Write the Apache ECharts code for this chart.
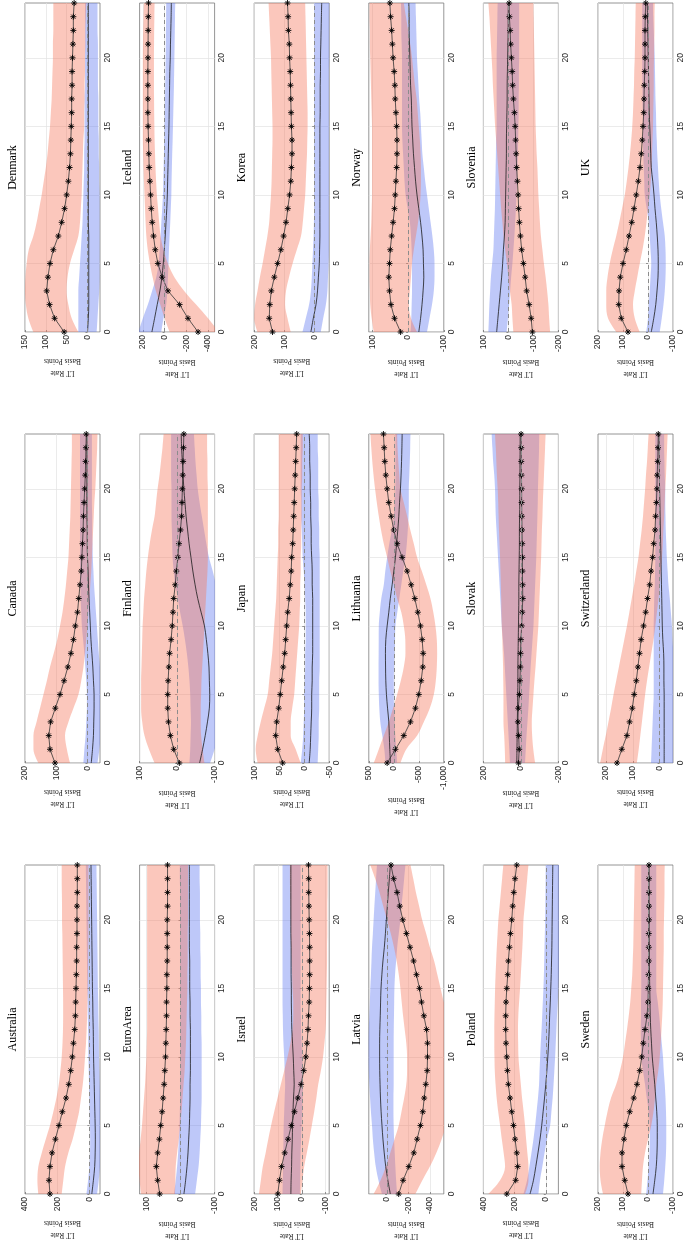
<!DOCTYPE html>
<html><head><meta charset="utf-8">
<script src="https://cdn.jsdelivr.net/npm/echarts@6/dist/echarts.min.js"></script>
<style>html,body{margin:0;padding:0;background:#fff}#c{width:687px;height:1247px}</style>
</head><body><div id="c"></div>
<script>
const horizons = [0,1,2,3,4,5,6,7,8,9,10,11,12,13,14,15,16,17,18,19,20,21,22,23,24];
const countryColumns = [
  ['Australia','EuroArea','Israel','Latvia','Poland','Sweden'],
  ['Canada','Finland','Japan','Lithuania','Slovak','Switzerland'],
  ['Denmark','Iceland','Korea','Norway','Slovenia','UK']
];
const axisName = 'LT Rate\nBasis Points';

// rm = red median (starred), ru/rl = red band; bm = blue median, bu/bl = blue band
const au_rm = [245,251,245,232,211,189,168,145,128,116,106,99,91,87,85,83,81,79,79,77,77,77,75,75,75];
const au_ru = [317,323,317,296,271,245,224,205,190,180,172,167,164,163,163,164,165,166,167,168,170,170,171,172,172];
const au_rl = [172,162,151,131,104,83,64,52,41,33,27,21,17,14,12,10,9,8,7,6,6,6,6,6,6];
const au_bm = [-15,-25,-33,-36,-37,-36,-34,-32,-30,-28,-26,-25,-24,-22,-21,-19,-18,-17,-16,-15,-14,-13,-12,-11,-10];
const au_bu = [18,8,0,-4,-5,-4,-2,0,2,4,6,7,8,10,11,13,14,15,16,17,18,19,20,21,22];
const au_bl = [-48,-58,-66,-70,-71,-70,-68,-66,-64,-62,-60,-59,-58,-56,-55,-53,-52,-51,-50,-49,-48,-47,-46,-45,-44];

const ea_rm = [61,67,71,67,62,58,54,51,48,46,44,43,42,41,41,40,40,39,39,39,39,38,38,38,38];
const ea_ru = [116,120,123,121,117,113,110,107,104,102,100,99,98,98,98,98,98,98,98,98,98,98,98,98,98];
const ea_rl = [16,15,14,10,5,1,-3,-6,-9,-12,-14,-16,-17,-18,-19,-20,-20,-21,-21,-21,-22,-22,-22,-22,-22];
const ea_bm = [-10,-15,-19,-22,-24,-26,-27,-28,-28,-29,-29,-29,-29,-28,-28,-27,-27,-27,-26,-26,-26,-26,-26,-26,-26];
const ea_bu = [19,14,10,7,5,3,2,1,1,0,0,0,0,0,0,1,1,1,1,1,1,1,1,2,2];
const ea_bl = [-43,-48,-53,-56,-58,-60,-61,-62,-62,-62,-62,-62,-61,-61,-60,-60,-59,-59,-58,-58,-57,-57,-57,-56,-56];

const is_rm = [101,94,85,72,58,44,31,17,3,-8,-17,-22,-26,-28,-31,-32,-33,-33,-33,-32,-31,-30,-29,-29,-28];
const is_ru = [180,172,164,152,141,129,116,102,88,74,60,48,39,36,36,39,41,43,45,46,47,48,49,50,50];
const is_rl = [4,-3,-10,-21,-32,-42,-52,-61,-69,-80,-89,-95,-100,-102,-103,-104,-105,-106,-106,-107,-107,-107,-108,-108,-108];
const is_bm = [46,45,43,42,40,39,37,35,32,34,36,39,42,43,44,44,45,45,45,46,46,46,46,46,46];
const is_bu = [81,80,79,78,77,76,74,72,70,72,74,77,79,80,81,81,81,81,81,81,81,81,81,81,81];
const is_bl = [8,7,6,5,3,1,-1,-3,-5,-4,-2,1,3,4,5,5,5,5,5,5,5,5,5,5,5];

const lv_rm = [-109,-150,-203,-250,-281,-312,-334,-347,-362,-375,-378,-378,-369,-344,-322,-303,-275,-248,-215,-181,-147,-119,-94,-62,-37];
const lv_ru = [125,60,10,-30,-70,-109,-135,-160,-180,-187,-187,-180,-165,-150,-137,-125,-110,-90,-65,-35,0,35,70,110,156];
const lv_rl = [-265,-330,-400,-460,-510,-550,-570,-580,-590,-595,-595,-590,-580,-560,-530,-500,-470,-440,-400,-365,-328,-300,-270,-245,-219];
const lv_bm = [-31,-8,12,26,38,47,55,61,65,68,69,69,67,63,60,56,48,38,25,15,6,-3,-12,-22,-31];
const lv_bu = [47,80,105,120,132,140,150,158,165,170,172,172,170,165,160,156,150,145,140,132,125,118,110,102,94];
const lv_bl = [-94,-85,-78,-72,-66,-62,-60,-60,-62,-62,-62,-62,-63,-65,-67,-69,-75,-85,-95,-110,-125,-135,-148,-160,-172];

const pl_rm = [250,193,180,186,197,207,218,229,240,246,250,255,257,257,255,250,244,240,233,227,218,212,205,197,186];
const pl_ru = [368,293,261,270,282,293,305,315,322,327,329,330,330,329,327,325,322,318,314,309,304,296,288,280,272];
const pl_rl = [133,111,111,118,126,133,142,152,160,168,175,177,178,176,171,165,160,155,150,146,143,135,127,119,111];
const pl_bm = [101,79,64,50,37,26,17,8,0,-7,-13,-18,-22,-25,-29,-32,-35,-37,-39,-40,-41,-42,-43,-44,-45];
const pl_bu = [143,120,105,92,79,68,59,50,43,40,36,32,27,23,19,15,12,10,8,6,4,3,2,1,0];
const pl_bl = [47,37,22,8,-8,-28,-36,-44,-50,-55,-60,-64,-68,-72,-77,-81,-84,-86,-88,-90,-92,-94,-95,-96,-97];

const sw_rm = [80,93,104,104,96,87,73,57,44,33,25,19,12,4,0,-1,-2,-3,-3,-3,-4,-4,-4,-4,-4];
const sw_ru = [180,190,193,190,183,173,162,148,127,112,100,92,84,77,71,67,63,61,59,58,57,56,55,54,53];
const sw_rl = [27,24,20,12,0,-13,-22,-28,-33,-41,-47,-51,-54,-57,-59,-60,-61,-62,-63,-63,-64,-65,-66,-66,-67];
const sw_bm = [-20,-27,-33,-36,-37,-37,-35,-31,-27,-22,-17,-14,-11,-9,-8,-7,-6,-5,-5,-4,-4,-3,-3,-3,-3];
const sw_bu = [7,2,-3,-6,-7,-7,-3,5,12,20,27,28,29,28,28,27,27,27,27,27,27,27,27,27,27];
const sw_bl = [-60,-65,-69,-72,-73,-73,-72,-70,-67,-63,-60,-55,-50,-45,-39,-33,-33,-33,-33,-33,-33,-33,-33,-33,-33];

const ca_rm = [104,120,124,118,103,88,75,63,53,45,39,32,28,24,20,18,16,14,13,11,9,7,6,5,4];
const ca_ru = [157,173,173,163,152,141,130,120,108,97,88,80,74,69,65,61,59,57,55,54,53,52,51,50,50];
const ca_rl = [56,66,72,61,45,29,20,13,8,4,0,-3,-6,-9,-12,-14,-16,-18,-20,-22,-25,-27,-29,-31,-32];
const ca_bm = [-12,-16,-19,-20,-21,-21,-19,-17,-14,-11,-9,-7,-5,-3,-2,0,1,1,2,2,2,2,2,2,2];
const ca_bu = [13,10,6,4,2,2,4,7,10,14,18,20,22,23,24,24,24,24,24,24,24,24,24,24,24];
const ca_bl = [-32,-38,-42,-44,-45,-45,-43,-40,-36,-33,-30,-27,-24,-21,-19,-17,-16,-15,-15,-14,-14,-14,-14,-14,-14];

const fi_rm = [-6,9,18,23,25,25,24,22,20,16,13,11,9,5,2,-2,-5,-9,-12,-13,-14,-15,-16,-17,-18];
const fi_ru = [60,75,87,93,96,96,96,95,94,93,92,90,88,85,82,78,73,67,60,56,52,47,43,39,36];
const fi_rl = [-73,-68,-64,-63,-63,-64,-65,-67,-69,-71,-73,-75,-77,-79,-81,-82,-82,-82,-82,-82,-82,-81,-81,-80,-80];
const fi_bm = [-60,-68,-75,-81,-86,-87,-86,-85,-82,-78,-73,-64,-55,-48,-42,-37,-32,-28,-24,-21,-18,-16,-14,-12,-11];
const fi_bu = [-33,-35,-36,-37,-36,-35,-33,-30,-26,-21,-15,-8,-2,5,9,12,13,14,15,15,15,16,16,16,16];
const fi_bl = [-88,-100,-110,-115,-118,-120,-120,-118,-116,-114,-112,-110,-107,-103,-95,-85,-78,-72,-66,-60,-55,-52,-49,-47,-45];

const jp_rm = [43,53,57,55,51,48,45,42,39,37,35,33,30,28,26,25,23,22,21,20,19,18,17,16,15];
const jp_ru = [93,97,93,87,80,73,70,67,64,62,60,58,56,55,54,53,52,52,51,51,51,51,51,51,51];
const jp_rl = [7,17,27,27,24,20,18,16,14,12,10,9,8,8,7,7,6,6,5,5,5,4,4,3,3];
const jp_bm = [-10,-12,-13,-14,-15,-15,-16,-16,-17,-17,-17,-17,-17,-16,-16,-15,-14,-14,-13,-13,-12,-12,-11,-11,-10];
const jp_bu = [7,4,2,1,0,0,-1,-2,-2,-3,-3,-3,-2,-1,1,3,4,5,6,6,7,7,7,7,7];
const jp_bl = [-27,-28,-29,-29,-30,-30,-30,-31,-31,-31,-31,-31,-31,-31,-31,-31,-30,-30,-29,-29,-28,-28,-28,-27,-27];

const lt_rm = [133,-33,-200,-333,-433,-500,-547,-580,-587,-567,-533,-480,-420,-347,-267,-167,-67,0,53,100,133,160,180,193,207];
const lt_ru = [400,300,200,100,15,-67,-140,-200,-233,-230,-200,-150,-67,0,70,133,200,255,300,340,375,405,430,450,467];
const lt_rl = [-133,-250,-467,-600,-720,-800,-840,-860,-867,-860,-833,-790,-733,-650,-560,-467,-400,-330,-267,-200,-133,-110,-90,-75,-67];
const lt_bm = [67,80,90,100,125,147,160,165,167,160,133,100,70,33,0,-33,-55,-80,-100,-115,-133,-145,-155,-162,-167];
const lt_bu = [167,190,230,270,290,300,305,305,303,302,300,280,250,200,170,133,90,40,0,-20,-33,-33,-33,-33,-33];
const lt_bl = [-67,-50,-30,-15,-5,0,0,-5,-15,-25,-33,-70,-110,-150,-190,-233,-260,-280,-295,-300,-300,-310,-320,-328,-333];

const sk_rm = [13,9,12,16,14,8,5,3,2,0,-4,-7,-10,-9,-8,-8,-7,-6,-5,-4,-4,-3,-2,-2,-1];
const sk_ru = [84,86,89,93,93,93,94,95,97,99,102,104,105,107,109,111,114,117,119,121,124,128,131,134,138];
const sk_rl = [-76,-66,-60,-58,-62,-67,-72,-78,-83,-88,-93,-96,-99,-102,-105,-108,-110,-112,-115,-117,-120,-123,-126,-129,-132];
const sk_bm = [22,21,20,19,18,17,16,16,15,14,13,12,11,11,10,9,8,8,7,6,6,5,5,4,4];
const sk_bu = [58,62,66,70,74,78,82,86,90,96,102,106,110,114,118,122,126,130,134,136,138,142,148,152,156];
const sk_bl = [-22,-26,-30,-35,-40,-44,-48,-52,-57,-62,-67,-70,-73,-76,-79,-82,-84,-86,-88,-90,-91,-93,-95,-97,-98];

const ch_rm = [159,141,122,112,102,95,87,81,75,69,60,52,45,37,32,26,22,17,15,12,10,9,7,6,5];
const ch_ru = [222,212,201,191,181,172,162,152,142,132,122,113,104,95,87,79,73,67,62,58,54,51,47,44,41];
const ch_rl = [85,78,72,66,60,54,47,39,31,23,16,10,4,-1,-5,-9,-12,-14,-17,-19,-21,-24,-26,-28,-30];
const ch_bm = [-17,-17,-17,-17,-17,-17,-16,-16,-15,-12,-10,-9,-8,-7,-6,-5,-4,-3,-2,-1,0,1,1,2,2];
const ch_bu = [32,30,28,26,24,22,22,22,22,22,22,21,20,18,17,16,16,16,16,16,16,16,16,16,16];
const ch_bl = [-55,-58,-60,-62,-63,-63,-62,-58,-52,-48,-46,-42,-38,-33,-30,-27,-25,-23,-22,-21,-21,-19,-18,-17,-17];

const dk_rm = [56,79,91,98,95,90,82,70,62,55,50,46,43,41,40,39,38,38,37,37,36,35,34,34,32];
const dk_ru = [130,142,148,150,149,146,141,130,122,116,110,105,100,96,93,90,88,86,85,84,83,83,82,82,82];
const dk_rl = [22,38,46,50,48,42,32,22,18,16,14,13,12,11,10,8,8,7,7,6,6,5,5,4,3];
const dk_bm = [0,-2,-3,-3,-3,-3,-3,-3,-2,-2,-2,-2,-2,-2,-2,-2,-2,-2,-2,-2,-2,-2,-2,-2,-2];
const dk_bu = [22,22,22,22,20,18,16,14,12,11,10,9,8,8,7,7,7,7,6,6,6,6,6,6,6];
const dk_bl = [-22,-24,-26,-28,-29,-29,-29,-29,-29,-29,-29,-28,-28,-27,-27,-26,-26,-26,-25,-25,-25,-25,-24,-24,-24];

const ic_rm = [-308,-215,-138,-31,22,62,86,102,114,123,129,135,142,145,148,152,154,154,154,154,153,152,151,150,148];
const ic_ru = [-46,0,40,80,110,135,155,168,175,180,185,190,194,197,200,200,200,200,200,200,200,199,197,194,191];
const ic_rl = [-500,-400,-290,-180,-90,-30,10,37,50,60,71,78,84,88,92,94,96,97,98,98,98,97,96,94,92];
const ic_bm = [117,92,68,43,25,12,3,-6,-13,-20,-25,-28,-31,-34,-37,-40,-42,-44,-46,-48,-52,-54,-57,-60,-62];
const ic_bu = [240,200,154,115,77,55,45,37,30,22,15,12,9,6,3,0,-2,-4,-6,-8,-10,-11,-12,-14,-15];
const ic_bl = [31,10,-15,-25,-31,-36,-40,-46,-52,-57,-62,-64,-67,-70,-74,-77,-80,-83,-86,-88,-90,-92,-94,-96,-98];

const kr_rm = [139,150,148,143,133,122,111,102,94,88,82,78,76,74,74,76,77,78,79,80,82,83,86,87,89];
const kr_ru = [189,200,197,189,181,172,164,156,150,147,144,142,141,140,139,139,140,141,142,143,144,146,148,150,152];
const kr_rl = [78,89,97,94,84,72,58,44,38,34,30,28,26,24,23,22,22,23,24,25,26,27,28,29,30];
const kr_bm = [11,3,-6,-11,-14,-17,-18,-19,-19,-19,-19,-19,-19,-19,-19,-19,-20,-20,-20,-21,-21,-22,-23,-24,-25];
const kr_bu = [39,28,17,11,8,6,4,2,1,0,0,0,0,0,0,0,0,0,0,0,0,0,0,0,0];
const kr_bl = [-22,-30,-39,-44,-46,-48,-49,-49,-49,-49,-49,-49,-49,-49,-49,-49,-49,-49,-49,-49,-50,-50,-50,-50,-50];

const no_rm = [21,38,48,52,54,52,50,46,42,38,36,34,32,31,31,32,34,36,37,39,42,44,46,49,51];
const no_ru = [96,102,106,107,108,108,107,105,103,102,101,101,101,101,101,101,102,103,104,105,106,107,107,108,108];
const no_rl = [-25,-8,-2,-5,-8,-11,-16,-22,-28,-32,-35,-36,-36,-35,-33,-30,-27,-24,-19,-15,-11,-6,0,6,12];
const no_bm = [-30,-35,-39,-42,-44,-43,-42,-39,-35,-30,-25,-21,-18,-15,-13,-11,-10,-9,-7,-6,-5,-4,-3,-3,-2];
const no_bu = [-7,-9,-10,-11,-11,-11,-10,-8,-5,1,7,10,12,14,16,17,17,17,17,17,17,18,19,19,20];
const no_bl = [-53,-60,-67,-72,-74,-74,-72,-68,-63,-58,-53,-48,-44,-40,-38,-36,-34,-31,-29,-27,-25,-24,-23,-22,-21];

const si_rm = [-96,-91,-83,-73,-67,-60,-53,-48,-44,-41,-39,-36,-33,-31,-29,-27,-24,-20,-17,-15,-12,-9,-7,-4,-3];
const si_ru = [-20,-16,-13,-6,0,6,13,19,24,29,33,37,41,45,49,53,56,59,62,64,67,70,73,76,80];
const si_rl = [-167,-163,-160,-155,-149,-142,-136,-130,-126,-123,-120,-118,-116,-113,-111,-109,-108,-107,-106,-105,-104,-103,-102,-101,-100];
const si_bm = [47,42,37,32,27,23,20,16,13,12,11,10,9,8,8,7,6,5,5,4,3,2,1,1,0];
const si_bu = [80,78,76,73,70,65,60,58,56,54,53,52,51,50,49,47,47,47,47,47,47,46,45,44,43];
const si_bl = [7,2,-3,-7,-11,-16,-20,-24,-27,-30,-33,-35,-37,-38,-39,-40,-41,-41,-42,-42,-43,-43,-43,-43,-43];

const uk_rm = [80,107,117,116,111,100,87,76,65,56,47,39,32,27,23,20,17,16,15,13,12,12,12,11,9];
const uk_ru = [127,160,167,167,162,153,141,127,115,104,93,85,78,72,67,63,60,58,56,55,53,52,51,50,49];
const uk_rl = [33,53,60,53,43,33,22,13,6,0,-7,-11,-14,-16,-18,-20,-21,-22,-23,-23,-24,-25,-26,-26,-27];
const uk_bm = [-13,-23,-31,-36,-40,-41,-40,-37,-33,-28,-24,-19,-13,-11,-9,-7,-5,-4,-3,-2,-1,0,1,2,3];
const uk_bu = [7,0,-3,-7,-10,-13,-10,-7,-4,5,13,15,17,19,20,20,21,22,22,23,23,23,23,23,23];
const uk_bl = [-47,-55,-62,-67,-70,-71,-70,-67,-60,-53,-47,-43,-40,-37,-35,-33,-32,-30,-29,-28,-27,-25,-23,-21,-20];

// value-axis limits and tick labels
const valueMin = {Australia:-66,EuroArea:-100,Israel:-115,Latvia:-530,Poland:-81,Sweden:-100,Canada:-40,Finland:-100,Japan:-50,Lithuania:-1000,Slovak:-200,Switzerland:-50,Denmark:-30,Iceland:-460,Korea:-50,Norway:-100,Slovenia:-200,UK:-100};
const valueMax = {Australia:400,EuroArea:120,Israel:200,Latvia:170,Poland:400,Sweden:200,Canada:200,Finland:100,Japan:100,Lithuania:500,Slovak:200,Switzerland:230,Denmark:150,Iceland:230,Korea:200,Norway:110,Slovenia:100,UK:200};
const valueTicks = {Australia:[0,200,400],EuroArea:[-100,0,100],Israel:[-100,0,100,200],Latvia:[-400,-200,0],Poland:[0,200,400],Sweden:[-100,0,100,200],Canada:[0,100,200],Finland:[-100,0,100],Japan:[-50,0,50,100],Lithuania:[-1000,-500,0,500],Slovak:[-200,0,200],Switzerland:[0,100,200],Denmark:[0,50,100,150],Iceland:[-400,-200,0,200],Korea:[0,100,200],Norway:[-100,0,100],Slovenia:[-200,-100,0,100],UK:[-100,0,100,200]};

const panelData = {
  Australia:[au_rm,au_ru,au_rl,au_bm,au_bu,au_bl], EuroArea:[ea_rm,ea_ru,ea_rl,ea_bm,ea_bu,ea_bl],
  Israel:[is_rm,is_ru,is_rl,is_bm,is_bu,is_bl], Latvia:[lv_rm,lv_ru,lv_rl,lv_bm,lv_bu,lv_bl],
  Poland:[pl_rm,pl_ru,pl_rl,pl_bm,pl_bu,pl_bl], Sweden:[sw_rm,sw_ru,sw_rl,sw_bm,sw_bu,sw_bl],
  Canada:[ca_rm,ca_ru,ca_rl,ca_bm,ca_bu,ca_bl], Finland:[fi_rm,fi_ru,fi_rl,fi_bm,fi_bu,fi_bl],
  Japan:[jp_rm,jp_ru,jp_rl,jp_bm,jp_bu,jp_bl], Lithuania:[lt_rm,lt_ru,lt_rl,lt_bm,lt_bu,lt_bl],
  Slovak:[sk_rm,sk_ru,sk_rl,sk_bm,sk_bu,sk_bl], Switzerland:[ch_rm,ch_ru,ch_rl,ch_bm,ch_bu,ch_bl],
  Denmark:[dk_rm,dk_ru,dk_rl,dk_bm,dk_bu,dk_bl], Iceland:[ic_rm,ic_ru,ic_rl,ic_bm,ic_bu,ic_bl],
  Korea:[kr_rm,kr_ru,kr_rl,kr_bm,kr_bu,kr_bl], Norway:[no_rm,no_ru,no_rl,no_bm,no_bu,no_bl],
  Slovenia:[si_rm,si_ru,si_rl,si_bm,si_bu,si_bl], UK:[uk_rm,uk_ru,uk_rl,uk_bm,uk_bu,uk_bl]
};

// ---------- layout / style ----------
const RED_BAND = 'rgba(246,122,96,0.42)';
const BLUE_BAND = 'rgba(100,125,240,0.42)';
const STAR = 'path://M5 0L5 10M0 5L10 5M1.5 1.5L8.5 8.5M1.5 8.5L8.5 1.5';
const bandTops = [865, 434, 3];
const PLOT_W = 75, PLOT_H = 329, STEP = 114.6, LEFT0 = 25;
const every5 = (i) => i % 5 === 0;
const LABEL_FONT = '"Liberation Sans", Arial, sans-serif';
const SERIF = '"Liberation Serif", "Times New Roman", serif';

const grids = [], xAxes = [], yAxes = [], series = [], graphics = [];
countryColumns.forEach((col, c) => {
  col.forEach((name, r) => {
    const k = grids.length;
    const left = LEFT0 + STEP * r, top = bandTops[c];
    const [rm, ru, rl, bm, bu, bl] = panelData[name];
    grids.push({left, top, width: PLOT_W, height: PLOT_H, show: true,
      borderColor: '#7a7a7a', borderWidth: 0.8, backgroundColor: 'transparent',
      containLabel: false, outerBoundsMode: 'none'});
    xAxes.push({gridIndex: k, type: 'value', inverse: true, position: 'bottom',
      min: valueMin[name], max: valueMax[name],
      axisLine: {show: false},
      axisTick: {show: true, inside: true, length: 2, customValues: valueTicks[name], lineStyle: {color: '#555', width: 0.6}},
      axisLabel: {customValues: valueTicks[name], rotate: 90, fontSize: 8.5, color: '#262626', margin: 3, fontFamily: LABEL_FONT},
      splitLine: {show: true, lineStyle: {color: '#e3e3e3', width: 0.7}},
      name: axisName, nameLocation: 'middle', nameRotate: 180, nameGap: 23,
      nameTextStyle: {fontFamily: SERIF, fontSize: 7.5, lineHeight: 12, color: '#222'}});
    yAxes.push({gridIndex: k, type: 'category', data: horizons, boundaryGap: false, position: 'right',
      axisLine: {show: false},
      axisTick: {show: true, inside: true, length: 2, interval: every5, lineStyle: {color: '#555', width: 0.6}},
      axisLabel: {interval: every5, rotate: 90, fontSize: 8.5, color: '#262626', margin: 3, fontFamily: LABEL_FONT},
      splitLine: {show: true, interval: every5, lineStyle: {color: '#e3e3e3', width: 0.7}}});
    const base = {type: 'line', xAxisIndex: k, yAxisIndex: k, silent: true, animation: false,
      showSymbol: false, symbol: 'none', clip: true};
    const hidden = {opacity: 0, width: 0};
    series.push(Object.assign({}, base, {stack: 'b' + k, stackStrategy: 'all', smooth: 0.35, data: bl, lineStyle: hidden}));
    series.push(Object.assign({}, base, {stack: 'b' + k, stackStrategy: 'all', smooth: 0.35,
      data: bu.map((u, i) => u - bl[i]), lineStyle: hidden, areaStyle: {color: BLUE_BAND, opacity: 1}}));
    series.push(Object.assign({}, base, {stack: 'r' + k, stackStrategy: 'all', smooth: 0.35, data: rl, lineStyle: hidden}));
    series.push(Object.assign({}, base, {stack: 'r' + k, stackStrategy: 'all', smooth: 0.35,
      data: ru.map((u, i) => u - rl[i]), lineStyle: hidden, areaStyle: {color: RED_BAND, opacity: 1}}));
    series.push(Object.assign({}, base, {data: bm, smooth: 0.35, lineStyle: {color: '#1a1a1a', width: 0.8},
      markLine: {silent: true, animation: false, symbol: ['none', 'none'], label: {show: false},
        lineStyle: {color: '#8c8c8c', type: [4, 3], width: 1}, data: [{xAxis: 0}]}}));
    series.push(Object.assign({}, base, {data: rm, showSymbol: true, showAllSymbol: true, symbol: STAR, symbolSize: 6,
      itemStyle: {color: '#000', borderColor: '#000', borderWidth: 0.9},
      lineStyle: {color: '#333', width: 0.8}}));
    graphics.push({type: 'text', x: left - 12, y: top + PLOT_H / 2, rotation: Math.PI / 2, silent: true,
      style: {text: name, font: '12px ' + SERIF, fill: '#000', align: 'center', verticalAlign: 'middle'}});
  });
});

const chart = echarts.init(document.getElementById('c'), null, {renderer: 'canvas'});
chart.setOption({animation: false, backgroundColor: '#fff', grid: grids, xAxis: xAxes, yAxis: yAxes,
  series: series, graphic: graphics});
</script></body></html>
